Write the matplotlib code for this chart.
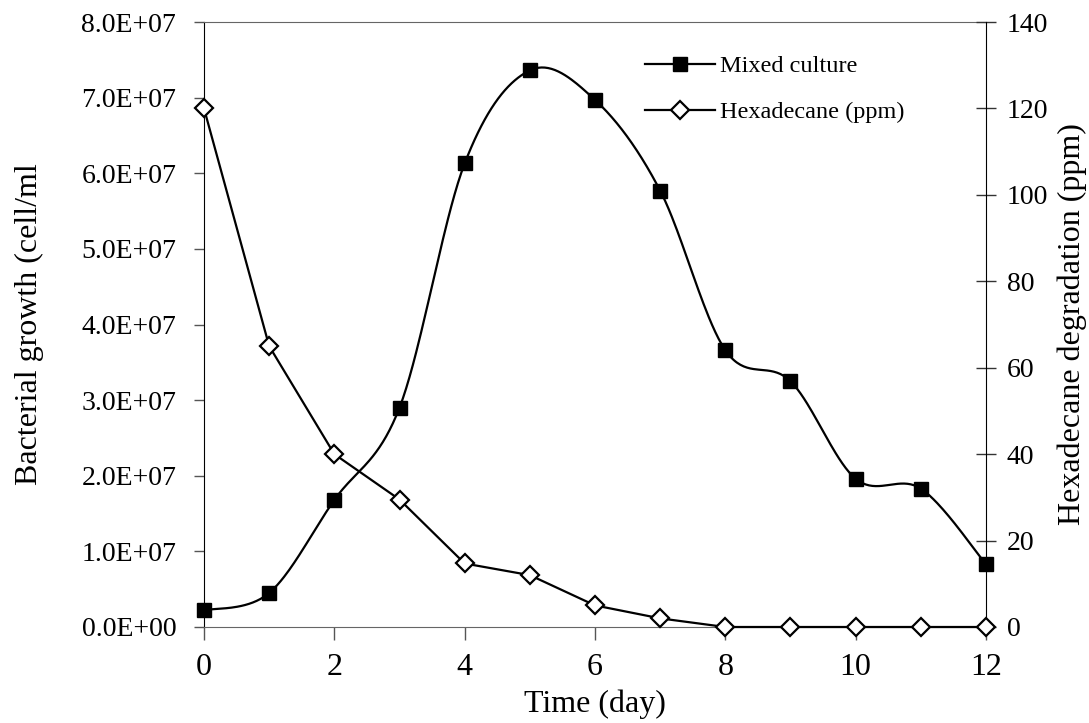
import numpy as np
import matplotlib
matplotlib.use("Agg")
import matplotlib.pyplot as plt
from matplotlib.ticker import FuncFormatter, MultipleLocator

# ============================================================
# Data
# ============================================================

days = [0, 1, 2, 3, 4, 5, 6, 7, 8, 9, 10, 11, 12]

# bacterial growth, cell/ml
mixed_culture = [2.2e6, 4.5e6, 1.68e7, 2.9e7, 6.13e7, 7.36e7, 6.97e7,
                 5.77e7, 3.66e7, 3.25e7, 1.96e7, 1.83e7, 8.3e6]

# hexadecane left, ppm
hexadecane = [120, 65, 40, 29.5, 14.7, 12, 5, 2, 0, 0, 0, 0, 0]

x_ticks = [0, 2, 4, 6, 8, 10, 12]

# ============================================================
# Helpers
# ============================================================

def smooth_line(x, y, steps=40):
    # Excel style smoothed line: Catmull-Rom segments drawn as Bezier curves
    x = np.asarray(x, dtype=float)
    y = np.asarray(y, dtype=float)
    px = np.concatenate([[x[0]], x, [x[-1]]])
    py = np.concatenate([[y[0]], y, [y[-1]]])
    t = np.linspace(0, 1, steps)
    xs, ys = [], []
    for i in range(1, len(px) - 2):
        p0x, p1x, p2x, p3x = px[i - 1], px[i], px[i + 1], px[i + 2]
        p0y, p1y, p2y, p3y = py[i - 1], py[i], py[i + 1], py[i + 2]
        c1x = p1x + (p2x - p0x) / 6
        c1y = p1y + (p2y - p0y) / 6
        c2x = p2x - (p3x - p1x) / 6
        c2y = p2y - (p3y - p1y) / 6
        bx = ((1 - t) ** 3 * p1x + 3 * (1 - t) ** 2 * t * c1x
              + 3 * (1 - t) * t ** 2 * c2x + t ** 3 * p2x)
        by = ((1 - t) ** 3 * p1y + 3 * (1 - t) ** 2 * t * c1y
              + 3 * (1 - t) * t ** 2 * c2y + t ** 3 * p2y)
        xs.append(bx)
        ys.append(by)
    return np.concatenate(xs), np.concatenate(ys)

# ============================================================
# Figure
# ============================================================

plt.rcParams['font.family'] = ['Liberation Serif', 'DejaVu Serif']

W, H = 1089, 723
fig = plt.figure(figsize=(W / 100, H / 100), dpi=100)
ax = fig.add_axes([204 / W, 1 - 627 / H, (986 - 204) / W, (627 - 22) / H])
ax2 = ax.twinx()

# mixed culture on the left axis (smoothed line)
sx, sy = smooth_line(days, mixed_culture)
ax.plot(sx, sy, color='black', lw=1.6, clip_on=False, zorder=3)
ax.plot(days, mixed_culture, ls='none', marker='s', ms=10.5,
        mfc='black', mec='black', clip_on=False, zorder=4)

# hexadecane on the right axis (straight segments)
ax2.plot(days, hexadecane, color='black', lw=1.6, marker='D', ms=8.8,
         mew=1.6, mfc='white', mec='black', clip_on=False, zorder=4)

# ============================================================
# Axes
# ============================================================

ax.set_xlim(0, 12)
ax.set_ylim(0, 8e7)
ax2.set_ylim(0, 140)
ax.set_xticks(x_ticks)
ax.yaxis.set_major_locator(MultipleLocator(1e7))
ax2.yaxis.set_major_locator(MultipleLocator(20))
ax.yaxis.set_major_formatter(FuncFormatter(lambda v, p: f"{v:.1E}"))

ax.tick_params(axis='x', direction='out', length=9, width=1,
               color='#555555', labelsize=23, pad=10)
ax.tick_params(axis='y', direction='out', length=7, width=1,
               color='#555555', labelsize=20, pad=13)
ax2.tick_params(axis='y', direction='inout', length=14, width=1,
                color='#333333', labelsize=20, pad=8)

for name in ['top', 'bottom']:
    ax.spines[name].set_color('#666666')
    ax2.spines[name].set_visible(False)
ax.spines['left'].set_color('black')
ax.spines['right'].set_visible(False)
ax2.spines['left'].set_visible(False)
ax2.spines['right'].set_color('black')

ax.set_xlabel('Time (day)', fontsize=23)
ax.xaxis.set_label_coords(0.5, -0.103)
ax.set_ylabel('Bacterial growth (cell/ml', fontsize=23)
ax.yaxis.set_label_coords(-0.205, 0.5)
ax2.set_ylabel('Hexadecane degradation (ppm)', fontsize=23)
ax2.yaxis.set_label_coords(1.092, 0.5)

# ============================================================
# Legend
# ============================================================

leg_handles = [
    plt.Line2D([0], [0], color='black', lw=1.6, marker='s', ms=10.5,
               mfc='black', mec='black'),
    plt.Line2D([0], [0], color='black', lw=1.6, marker='D', ms=8.8,
               mew=1.6, mfc='white', mec='black'),
]
ax2.legend(leg_handles, ['Mixed culture', 'Hexadecane (ppm)'],
           loc='upper left', bbox_to_anchor=(645 / W, 1 - 55 / H),
           bbox_transform=fig.transFigure, frameon=False, fontsize=17.5,
           handlelength=2.9, handletextpad=0.2, labelspacing=1.0,
           borderpad=0, borderaxespad=0)

fig.savefig('out.png', dpi=100)
